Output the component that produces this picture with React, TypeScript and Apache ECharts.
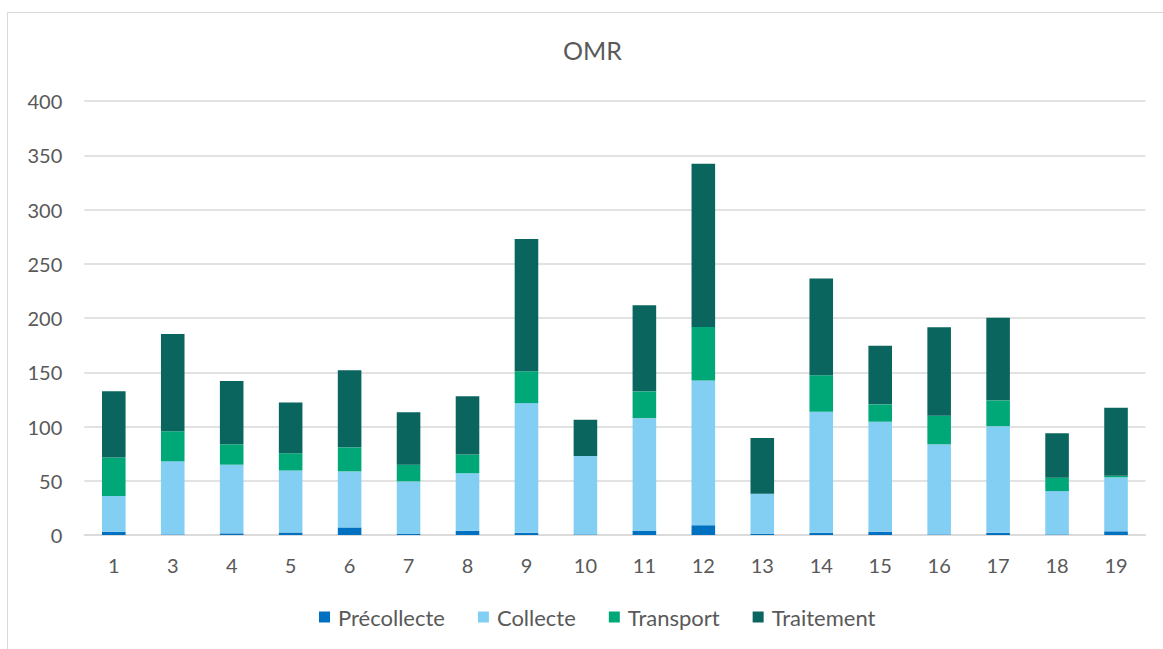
import React, { useEffect, useRef } from "react";
import * as echarts from "echarts";

const categories = ["1", "3", "4", "5", "6", "7", "8", "9", "10", "11", "12", "13", "14", "15", "16", "17", "18", "19"];
const precollecte = [3, 0.5, 1.5, 2.4, 7, 1, 4, 2, 0.5, 4, 9, 1.2, 2, 3, 0.5, 2, 0.5, 3.4];
const collecte = [33, 67.4, 63.3, 57.1, 51.6, 48.4, 52.8, 119.6, 72.4, 103.7, 133.3, 36.8, 111.6, 101.4, 83.1, 98.3, 40, 49.7];
const transport = [35.5, 27.7, 18.8, 15.8, 22.2, 15.4, 17.3, 29.3, 0, 24.7, 49.4, 0, 33.6, 16, 26.3, 23.8, 12.3, 1.5];
const traitement = [61, 89.6, 58.4, 46.9, 71.1, 48.4, 53.7, 122, 33.3, 79.4, 150.4, 51.5, 89.2, 54, 81.5, 76.2, 41, 62.7];
const yTicks = { min: 0, max: 400, interval: 50 };

const FONT = "Lato";
const TEXT = "#595959";

export default function App() {
  const ref = useRef<HTMLDivElement>(null);
  useEffect(() => {
    if (!ref.current) return;
    const chart = echarts.init(ref.current, null, { renderer: "svg" });
    const mk = (name: string, data: number[], color: string) => ({
      name,
      type: "bar",
      stack: "total",
      data,
      barWidth: "40%",
      itemStyle: { color },
    });
    chart.setOption({
      animation: false,
      backgroundColor: "#ffffff",
      textStyle: { fontFamily: FONT },
      graphic: [
        {
          type: "rect",
          shape: { x: 7.5, y: 12.5, width: 1170, height: 700 },
          style: { fill: "none", stroke: "#D9D9D9", lineWidth: 1 },
          silent: true,
        },
      ],
      title: {
        text: "OMR",
        left: 563,
        top: 37,
        padding: 0,
        textStyle: { fontFamily: FONT, fontSize: 25, fontWeight: "normal", color: TEXT },
      },
      legend: {
        left: 314,
        top: 601,
        itemWidth: 11,
        itemHeight: 11,
        itemGap: 33,
        icon: "rect",
        textStyle: { fontFamily: FONT, fontSize: 22, color: TEXT, padding: [0, 0, 0, 3] },
        data: ["Précollecte", "Collecte", "Transport", "Traitement"],
      },
      grid: { left: 84.3, right: 17.5, top: 101, bottom: 114, containLabel: false },
      xAxis: {
        type: "category",
        data: categories,
        axisLine: { lineStyle: { color: "#D9D9D9", width: 1.5 } },
        axisTick: { show: false },
        axisLabel: { fontFamily: FONT, fontSize: 20, color: TEXT, margin: 20 },
      },
      yAxis: {
        type: "value",
        min: yTicks.min,
        max: yTicks.max,
        interval: yTicks.interval,
        axisLine: { show: false },
        axisTick: { show: false },
        splitLine: { lineStyle: { color: "#D9D9D9", width: 1.5 } },
        axisLabel: { fontFamily: FONT, fontSize: 20, color: TEXT, margin: 22 },
      },
      series: [
        mk("Précollecte", precollecte, "#0070C0"),
        mk("Collecte", collecte, "#83CEF3"),
        mk("Transport", transport, "#00A877"),
        mk("Traitement", traitement, "#0A655F"),
      ],
    });
    return () => chart.dispose();
  }, []);
  return (
    <div
      ref={ref}
      style={{ position: "absolute", left: 0, top: 0, width: 1163, height: 649 }}
    />
  );
}
